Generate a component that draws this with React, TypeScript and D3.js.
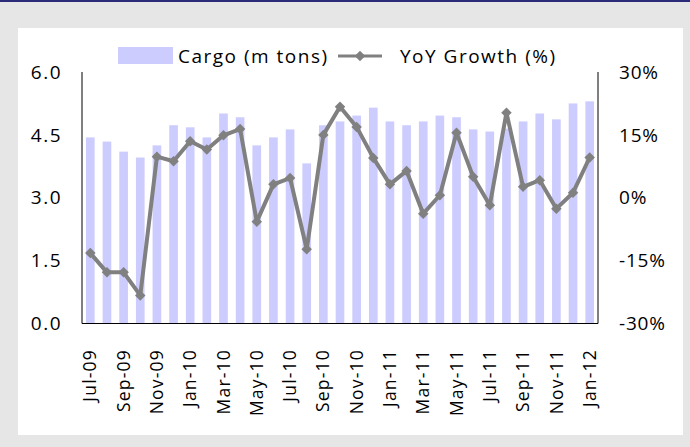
import React from 'react';
import * as d3 from 'd3';

const months = [
  'Jul-09', 'Aug-09', 'Sep-09', 'Oct-09', 'Nov-09', 'Dec-09', 'Jan-10', 'Feb-10',
  'Mar-10', 'Apr-10', 'May-10', 'Jun-10', 'Jul-10', 'Aug-10', 'Sep-10', 'Oct-10',
  'Nov-10', 'Dec-10', 'Jan-11', 'Feb-11', 'Mar-11', 'Apr-11', 'May-11', 'Jun-11',
  'Jul-11', 'Aug-11', 'Sep-11', 'Oct-11', 'Nov-11', 'Dec-11', 'Jan-12'
];

const cargo = [
  4.44, 4.34, 4.1, 3.96, 4.25, 4.73, 4.68, 4.44, 5.01, 4.92, 4.25, 4.44, 4.63, 3.82, 4.73, 4.82,
  4.96, 5.15, 4.82, 4.73, 4.82, 4.96, 4.92, 4.63, 4.58, 4.65, 4.82, 5.01, 4.87, 5.25, 5.3
];

const growth = [
  -13.2, -17.8, -17.8, -23.3, 9.8, 8.7, 13.5, 11.5, 14.9, 16.4, -5.7, 3.2, 4.7, -12.3, 15.0, 21.7,
  16.9, 9.5, 3.2, 6.4, -3.8, 0.6, 15.5, 5.0, -1.8, 20.3, 2.6, 4.2, -2.6, 1.2, 9.6
];

const leftTicks = [0, 1.5, 3, 4.5, 6];
const rightTicks = [-30, -15, 0, 15, 30];

const font = "'Open Sans', sans-serif";

export default function App() {
  const width = 690, height = 447;
  const left = 82, right = 598, top = 72, bottom = 323.5;

  const x = d3.scaleBand<string>().domain(months).range([left, right]).paddingInner(0.48).paddingOuter(0.24);
  const yL = d3.scaleLinear().domain([0, 6]).range([bottom, top]);
  const yR = d3.scaleLinear().domain([-30, 30]).range([bottom, top]);
  const cx = (m: string) => (x(m) as number) + x.bandwidth() / 2;

  const line = d3.line<number>()
    .x((_, i) => cx(months[i]))
    .y(d => yR(d));

  const diamond = d3.symbol().type(d3.symbolDiamond2).size(70)() as string;

  return (
    <svg width={width} height={height} style={{ position: 'absolute', left: 0, top: 0 }}>
      <rect x={0} y={0} width={width} height={height} fill="#e6e6e6" />
      <rect x={0} y={0} width={width} height={2} fill="#2b2b7a" />
      <rect x={18} y={28} width={665} height={407} fill="#ffffff" />

      {/* legend */}
      <rect x={118} y={47} width={55} height={17} fill="#ccccff" />
      <text x={178} y={63} fontFamily={font} fontSize={19} letterSpacing={1.5} fill="#000">Cargo (m tons)</text>
      <line x1={338} x2={382} y1={56} y2={56} stroke="#808080" strokeWidth={3} />
      <path d={diamond} transform="translate(360,56)" fill="#808080" />
      <text x={400} y={63} fontFamily={font} fontSize={19} letterSpacing={1.5} fill="#000">YoY Growth (%)</text>

      {/* bars */}
      {cargo.map((v, i) => (
        <rect key={months[i]} x={x(months[i])} y={yL(v)} width={x.bandwidth()} height={yL(0) - yL(v)} fill="#ccccff" />
      ))}

      {/* axes */}
      <line x1={left} x2={left} y1={top} y2={bottom} stroke="#000" strokeWidth={1} />
      <line x1={right} x2={right} y1={top} y2={bottom} stroke="#000" strokeWidth={1} />
      <line x1={left} x2={right} y1={bottom} y2={bottom} stroke="#000" strokeWidth={1} />

      {leftTicks.map(t => (
        <text key={t} x={62} y={yL(t)} dy="0.35em" textAnchor="end" fontFamily={font} fontSize={19} letterSpacing={1.5} fill="#000">
          {d3.format('.1f')(t)}
        </text>
      ))}
      {rightTicks.map(t => (
        <text key={t} x={619} y={yR(t)} dy="0.35em" fontFamily={font} fontSize={19} letterSpacing={0.8} fill="#000">
          {t + '%'}
        </text>
      ))}

      {months.map((m, i) => i % 2 === 0 ? (
        <text key={m} transform={`translate(${cx(m)},${349}) rotate(-90)`} dy="0.35em" textAnchor="end"
          fontFamily={font} fontSize={17.5} letterSpacing={1.2} fill="#000">{m}</text>
      ) : null)}

      {/* growth line */}
      <path d={line(growth) as string} fill="none" stroke="#808080" strokeWidth={4} strokeLinejoin="round" />
      {growth.map((v, i) => (
        <path key={i} d={diamond} transform={`translate(${cx(months[i])},${yR(v)})`} fill="#808080" />
      ))}
    </svg>
  );
}
